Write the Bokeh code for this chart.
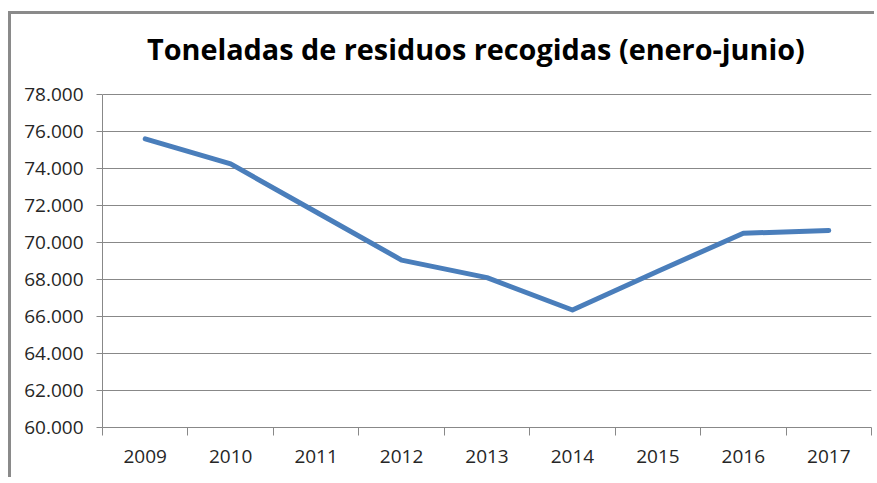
from bokeh.plotting import figure
from bokeh.models import Range1d, FixedTicker
from bokeh.core.properties import value
from bokeh.embed import file_html
from bokeh.resources import INLINE

years = ["2009", "2010", "2011", "2012", "2013", "2014", "2015", "2016", "2017"]
toneladas = [75600, 74250, 71650, 69050, 68100, 66350, 68450, 70500, 70650]
y_ticks = [60000, 62000, 64000, 66000, 68000, 70000, 72000, 74000, 76000, 78000]
title_text = "Toneladas de residuos recogidas (enero-junio)"

x_pos = [i + 0.5 for i in range(len(years))]

GRAY = "#888888"
FONT = "Open Sans"

# frame: 333 px tall for 60.000-78.000; the area above holds the title
px_per_unit = 333 / (y_ticks[-1] - y_ticks[0])
y_top = y_ticks[-1] + 80 / px_per_unit
title_y = y_ticks[-1] + 46 / px_per_unit

p = figure(width=866, height=466, output_backend="svg", toolbar_location=None, title=None,
           x_range=Range1d(0, len(years)), y_range=Range1d(y_ticks[0], y_top),
           min_border_left=91, min_border_right=6, min_border_top=0, min_border_bottom=53)
p.styles = {"margin-left": "8px", "margin-top": "11px",
            "border-left": "3px solid #8a8a8a", "border-top": "3px solid #8a8a8a"}

p.outline_line_color = None
p.background_fill_color = "white"
p.border_fill_color = "white"

p.text(x=[len(years) / 2 - 0.13], y=[title_y], text=[title_text],
       text_font=value(FONT), text_font_size="28.8px", text_font_style="bold",
       text_color="#000000", text_align="center", text_baseline="alphabetic")

p.line(x_pos, toneladas, line_color="#4A7EBB", line_width=5, line_join="round", line_cap="round")

# x axis: labels at category centers, ticks at category boundaries
p.xaxis.ticker = FixedTicker(ticks=x_pos, minor_ticks=list(range(len(years) + 1)))
p.xaxis.major_label_overrides = {x: y for x, y in zip(x_pos, years)}
p.xaxis.major_tick_out = 0
p.xaxis.major_tick_in = 0
p.xaxis.minor_tick_out = 8
p.xaxis.minor_tick_in = 0
p.xaxis.minor_tick_line_color = GRAY
p.xaxis.axis_line_color = GRAY
p.xaxis.major_label_standoff = 14
p.xgrid.grid_line_color = None

# y axis
p.yaxis.ticker = FixedTicker(ticks=y_ticks)
p.yaxis.bounds = (y_ticks[0], y_ticks[-1])
p.yaxis.major_label_overrides = {v: f"{v:,}".replace(",", ".") for v in y_ticks}
p.yaxis.major_tick_out = 6
p.yaxis.major_tick_in = 0
p.yaxis.minor_tick_line_color = None
p.yaxis.major_tick_line_color = GRAY
p.yaxis.axis_line_color = GRAY
p.yaxis.major_label_standoff = 13
p.ygrid.grid_line_color = GRAY
p.ygrid.grid_line_width = 1

for ax in (p.xaxis, p.yaxis):
    ax.major_label_text_font = FONT
    ax.major_label_text_font_size = "19px"
    ax.major_label_text_color = "#262626"

open("out.html", "w").write(file_html(p, INLINE))
